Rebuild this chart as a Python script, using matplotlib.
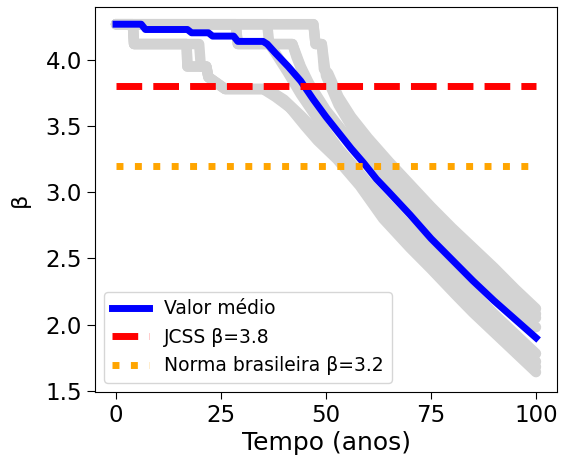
import matplotlib
matplotlib.use("Agg")
import matplotlib.pyplot as plt

# Mean curve (Valor médio)
t_mean = [0, 6, 7, 17, 18, 22, 23, 28, 29, 35, 36, 38, 41, 44, 47, 50, 53, 56, 59, 62,
          65, 70, 75, 80, 85, 90, 95, 100]
v_mean = [4.27, 4.27, 4.23, 4.23, 4.205, 4.205, 4.18, 4.18, 4.14, 4.14, 4.12, 4.05, 3.95,
          3.84, 3.70, 3.57, 3.45, 3.33, 3.22, 3.10, 3.00, 2.83, 2.65, 2.49, 2.33, 2.18,
          2.04, 1.90]

# Individual simulated trajectories (gray)
t_s1 = [0, 47, 47.5, 49, 49.5, 50.5, 53, 56, 60, 65, 70, 75, 80, 85, 90, 95, 100]
v_s1 = [4.27, 4.27, 4.12, 4.12, 3.93, 3.90, 3.72, 3.57, 3.41, 3.23, 3.06, 2.89, 2.73,
        2.58, 2.43, 2.27, 2.12]
t_s1b = [0, 47, 47.5, 49, 50, 53, 56, 60, 65, 70, 75, 80, 85, 90, 95, 100]
v_s1b = [4.27, 4.27, 4.12, 4.12, 3.88, 3.66, 3.50, 3.33, 3.16, 2.99, 2.83, 2.68, 2.53,
         2.38, 2.23, 2.08]
t_s2 = [0, 28.5, 29, 42, 44, 46, 50, 55, 60, 65, 70, 75, 80, 85, 90, 95, 100]
v_s2 = [4.27, 4.27, 4.12, 4.12, 3.95, 3.82, 3.62, 3.42, 3.25, 3.09, 2.93, 2.78, 2.63,
        2.48, 2.33, 2.19, 2.05]
t_s3 = [0, 28.5, 29, 42, 43, 45, 48, 52, 56, 60, 65, 70, 75, 80, 85, 90, 95, 100]
v_s3 = [4.27, 4.27, 4.12, 4.12, 4.02, 3.86, 3.70, 3.51, 3.35, 3.20, 3.03, 2.87, 2.71,
        2.56, 2.41, 2.26, 2.12, 1.98]
t_s4 = [0, 36, 36.5, 38, 41, 44, 47, 50, 53, 56, 60, 65, 70, 75, 80, 85, 90, 95, 100]
v_s4 = [4.27, 4.27, 4.12, 4.05, 3.90, 3.74, 3.60, 3.46, 3.33, 3.22, 3.07, 2.90, 2.73,
        2.56, 2.40, 2.24, 2.08, 1.93, 1.78]
t_s5 = [0, 4, 4.3, 19.8, 20.2, 21.5, 22, 26, 36, 40, 44, 48, 52, 56, 60, 65, 70, 75, 80,
        85, 90, 95, 100]
v_s5 = [4.27, 4.27, 4.12, 4.12, 3.95, 3.95, 3.87, 3.78, 3.78, 3.70, 3.58, 3.45, 3.32,
        3.19, 3.05, 2.88, 2.71, 2.54, 2.38, 2.22, 2.06, 1.89, 1.72]
t_s5b = [0, 4, 4.3, 16.8, 17, 21.5, 22, 26, 35.5, 39, 43, 47, 51, 55, 60, 65, 70, 75, 80,
         85, 90, 95, 100]
v_s5b = [4.27, 4.27, 4.12, 4.12, 3.95, 3.95, 3.87, 3.78, 3.78, 3.71, 3.59, 3.46, 3.32,
         3.17, 3.00, 2.82, 2.645, 2.48, 2.32, 2.155, 2.00, 1.84, 1.68]
t_s6 = [0, 4, 4.3, 16.8, 17, 21.5, 22, 26, 35, 38, 41.4, 45, 48, 52.6, 58, 63.6, 70, 75,
        81, 85, 90, 95, 100]
v_s6 = [4.27, 4.27, 4.12, 4.12, 3.95, 3.95, 3.87, 3.78, 3.78, 3.72, 3.64, 3.50, 3.39,
        3.25, 3.05, 2.80, 2.58, 2.42, 2.22, 2.09, 1.94, 1.79, 1.64]

sims_t = [t_s1, t_s1b, t_s2, t_s3, t_s4, t_s5, t_s5b, t_s6]
sims_v = [v_s1, v_s1b, v_s2, v_s3, v_s4, v_s5, v_s5b, v_s6]

# Reference levels
t_ref = [0, 100]
beta_jcss = [3.8, 3.8]
beta_nbr = [3.2, 3.2]

xticks = [0, 25, 50, 75, 100]
yticks = [1.5, 2.0, 2.5, 3.0, 3.5, 4.0]

fig = plt.figure(figsize=(5.62, 4.66), dpi=100)
ax = fig.add_axes([95 / 562, 74 / 466, 462 / 562, 385 / 466])

for ts, vs in zip(sims_t, sims_v):
    ax.plot(ts, vs, color="lightgray", lw=7.5, solid_capstyle="round",
            solid_joinstyle="round", zorder=1)

ax.plot(t_mean, v_mean, color="blue", lw=5, label="Valor médio", zorder=2)
ax.plot(t_ref, beta_jcss, color="red", lw=5, ls="--", label="JCSS β=3.8", zorder=3)
ax.plot(t_ref, beta_nbr, color="orange", lw=5, ls=":",
        label="Norma brasileira β=3.2", zorder=4)

ax.set_xlim(-5, 105)
ax.set_ylim(1.49, 4.40)
ax.set_xticks(xticks)
ax.set_yticks(yticks)
ax.set_yticklabels([f"{y:.1f}" for y in yticks])
ax.tick_params(labelsize=16.5, length=5)
ax.tick_params(axis="y", length=6)
ax.set_xlabel("Tempo (anos)", fontsize=18, labelpad=3)
ax.set_ylabel("β", fontsize=16, labelpad=11)
ax.legend(loc="lower left", fontsize=13.5)

fig.savefig("out.png", dpi=100)
